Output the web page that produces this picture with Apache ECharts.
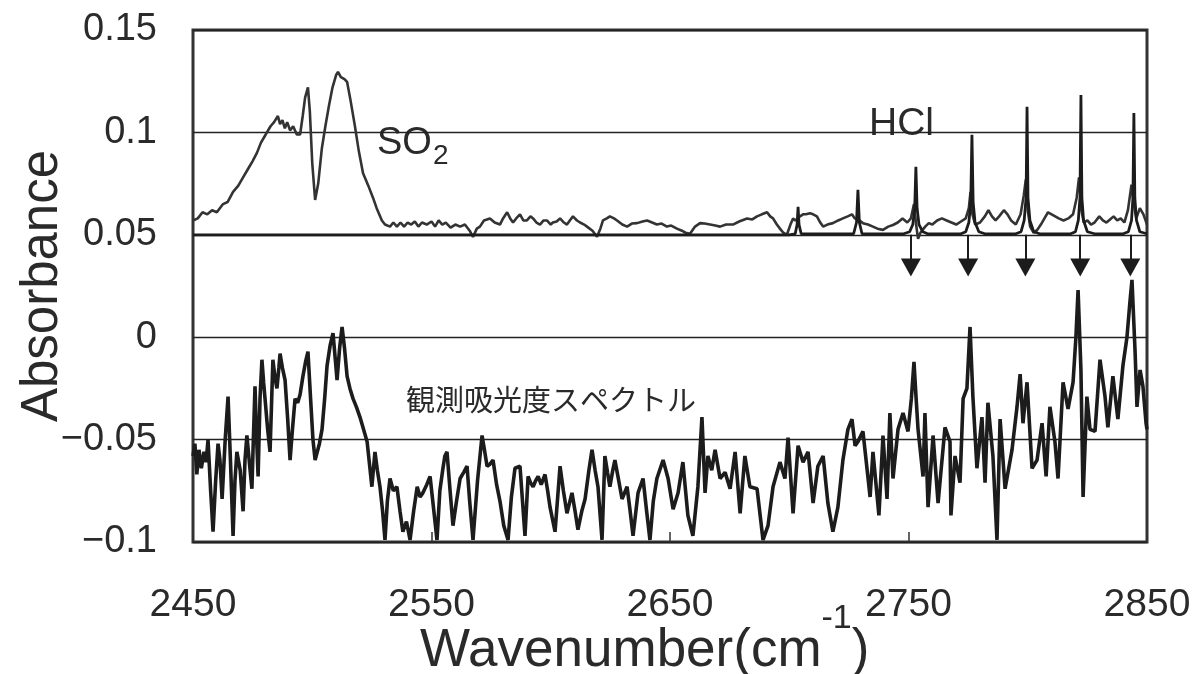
<!DOCTYPE html>
<html>
<head>
<meta charset="utf-8">
<script src="https://cdn.jsdelivr.net/npm/echarts@6/dist/echarts.min.js"></script>
<style>html,body{margin:0;padding:0;background:#fff;}#c{width:1195px;height:674px;}</style>
</head>
<body>
<div id="c"></div>
<script>
// ---- data ----
const xTickLabels = ['2450','2550','2650','2750','2850'];
const yTickLabels = ['\u22120.1','\u22120.05','0','0.05','0.1','0.15'];
const hclArrowX = [2751, 2775, 2799, 2822, 2843];

// observed absorbance spectrum (lower trace)
const observed = [
[2450,-0.058],[2450.8,-0.052],[2451.6,-0.067],[2452.5,-0.055],[2453.5,-0.064],[2454.6,-0.056],[2455.5,-0.061],[2456.3,-0.05],[2457.4,-0.075],[2458.4,-0.095],[2459.5,-0.07],[2460.5,-0.052],[2461.3,-0.06],[2462.2,-0.079],[2463.5,-0.05],[2464.7,-0.029],[2465.7,-0.06],[2466.8,-0.097],[2467.6,-0.07],[2468.4,-0.056],[2469.8,-0.065],[2471,-0.085],[2471.8,-0.06],[2472.6,-0.048],[2473.7,-0.062],[2474.7,-0.074],[2475.3,-0.05],[2476,-0.024],[2476.7,-0.05],[2477.3,-0.068],[2478.1,-0.03],[2478.9,-0.011],[2479.6,-0.022],[2480.2,-0.03],[2481.3,-0.045],[2482.3,-0.056],[2483,-0.03],[2483.5,-0.011],[2484.4,-0.02],[2485.2,-0.025],[2486,-0.015],[2486.5,-0.008],[2487.5,-0.015],[2488.6,-0.021],[2489.7,-0.04],[2490.7,-0.06],[2491.7,-0.045],[2492.8,-0.03],[2493.9,-0.032],[2494.9,-0.028],[2496.1,-0.019],[2497.2,-0.012],[2498.2,-0.007],[2499.3,-0.03],[2500.3,-0.05],[2501.2,-0.06],[2502,-0.06],[2503,-0.052],[2504.1,-0.045],[2505.2,-0.03],[2506.2,-0.014],[2507.5,-0.004],[2508.7,0.002],[2509.6,-0.01],[2510.4,-0.021],[2511.5,-0.005],[2512.5,0.005],[2513.5,-0.005],[2514.6,-0.019],[2515.8,-0.025],[2517.1,-0.03],[2518.5,-0.034],[2520,-0.039],[2521.5,-0.045],[2523,-0.051],[2524,-0.062],[2525,-0.073],[2526.3,-0.056],[2527.3,-0.065],[2528.4,-0.073],[2529.5,-0.085],[2530.5,-0.099],[2531.5,-0.08],[2532.6,-0.069],[2534,-0.075],[2535.5,-0.073],[2536.8,-0.085],[2538,-0.095],[2539.5,-0.09],[2541,-0.099],[2542.5,-0.085],[2544,-0.073],[2545.2,-0.078],[2546.4,-0.076],[2548,-0.072],[2549.4,-0.068],[2551,-0.085],[2552.3,-0.099],[2553.5,-0.075],[2554.8,-0.064],[2555.6,-0.058],[2556.5,-0.056],[2557.8,-0.075],[2559,-0.092],[2560.5,-0.08],[2562,-0.069],[2563.5,-0.066],[2564.9,-0.063],[2566,-0.08],[2567.4,-0.099],[2569.3,-0.07],[2571.2,-0.048],[2572.2,-0.055],[2573.3,-0.063],[2574.5,-0.062],[2575.8,-0.06],
[2577.3,-0.072],[2578.7,-0.08],[2580.3,-0.092],[2582.1,-0.099],[2583.5,-0.078],[2585,-0.064],[2587.1,-0.063],[2589.2,-0.097],[2590.5,-0.068],[2591.5,-0.071],[2592.6,-0.073],[2593.7,-0.07],[2594.7,-0.068],[2596,-0.072],[2597.6,-0.067],[2598.7,-0.075],[2599.7,-0.083],[2601.8,-0.095],[2603.9,-0.063],[2605.3,-0.075],[2606.8,-0.086],[2608.9,-0.076],[2610.2,-0.085],[2611.4,-0.094],[2613,-0.085],[2614.4,-0.079],[2616,-0.065],[2617.3,-0.055],[2618.6,-0.065],[2619.8,-0.073],[2621.5,-0.099],[2622.7,-0.058],[2623.8,-0.066],[2624.8,-0.073],[2626,-0.065],[2626.9,-0.06],[2628.5,-0.07],[2629.9,-0.079],[2632,-0.073],[2633.3,-0.085],[2634.5,-0.097],[2636.6,-0.076],[2638.7,-0.069],[2640.2,-0.085],[2641.6,-0.099],[2643,-0.08],[2644.5,-0.069],[2647.1,-0.06],[2649.2,-0.069],[2651.3,-0.084],[2653.4,-0.076],[2655.4,-0.061],[2657.5,-0.087],[2659.6,-0.097],[2661.7,-0.073],[2663.4,-0.039],[2664.7,-0.076],[2665.9,-0.058],[2667.5,-0.065],[2668.9,-0.055],[2671,-0.069],[2673.1,-0.066],[2675.2,-0.074],[2677.3,-0.056],[2679.4,-0.086],[2681.4,-0.058],[2683.5,-0.073],[2686.5,-0.074],[2689,-0.099],[2691.1,-0.092],[2693.2,-0.073],[2696.1,-0.061],[2698.2,-0.069],[2699.5,-0.049],[2701.6,-0.086],[2703.7,-0.053],[2705.8,-0.061],[2707.9,-0.056],[2710,-0.081],[2712,-0.063],[2714.2,-0.058],[2716.2,-0.081],[2718.3,-0.095],[2720.4,-0.083],[2722.5,-0.06],[2724.6,-0.045],[2726.3,-0.04],[2727.6,-0.053],[2728.8,-0.051],
[2730.9,-0.046],[2733.9,-0.078],[2735.1,-0.056],[2737.6,-0.087],[2739.3,-0.048],[2741,-0.079],[2742.2,-0.037],[2743.5,-0.069],[2745.6,-0.045],[2747.7,-0.037],[2749.8,-0.046],[2751.2,-0.03],[2752.3,-0.012],[2753.2,-0.03],[2754,-0.045],[2756.1,-0.068],[2756.9,-0.037],[2758.2,-0.083],[2760.3,-0.048],[2762.4,-0.081],[2765.3,-0.044],[2767.4,-0.051],[2767.8,-0.087],[2769.5,-0.058],[2771.6,-0.071],[2772.9,-0.03],[2774.5,-0.025],[2775.8,0.005],[2777,-0.029],[2778.7,-0.064],[2780.8,-0.039],[2782.1,-0.071],[2783.3,-0.032],[2785.4,-0.058],[2787.1,-0.099],[2788.4,-0.04],[2790.5,-0.074],[2793.4,-0.055],[2795.5,-0.034],[2796.8,-0.018],[2798,-0.042],[2799.7,-0.022],[2801.8,-0.064],[2803.9,-0.06],[2806,-0.042],[2807.7,-0.068],[2809.3,-0.034],[2811.4,-0.051],[2812.7,-0.069],[2814.8,-0.022],[2816.9,-0.035],[2819,-0.022],[2820.2,0],[2821.1,0.023],[2822.3,-0.016],[2823.2,-0.078],[2824.8,-0.029],[2826.1,-0.045],[2828.2,-0.046],[2830.3,-0.011],[2832.4,-0.029],[2833.6,-0.044],[2835.7,-0.019],[2837.8,-0.04],[2839.9,-0.014],[2841.6,0],[2842.9,0.018],[2843.7,0.028],[2845,-0.007],[2845.8,-0.034],[2847.1,-0.016],[2848.3,-0.024],[2849.6,-0.042],[2850,-0.045]
];

// derived spectrum (upper noisy trace with SO2 band)
const derived = [
[2450,0.057],[2452,0.058],[2454,0.061],[2456,0.06],[2458,0.062],[2460,0.061],[2462.6,0.065],[2464.5,0.066],[2466.8,0.071],[2469,0.074],[2471,0.078],[2473,0.082],[2475,0.086],[2476.8,0.09],[2478.5,0.095],[2480,0.098],[2481,0.1],[2482.5,0.103],[2484,0.105],[2485.6,0.108],[2486.5,0.104],[2487.5,0.106],[2488.5,0.102],[2489.5,0.105],[2490.7,0.101],[2492,0.103],[2493.5,0.099],[2494.9,0.099],[2496,0.108],[2497,0.117],[2498.2,0.122],[2499,0.11],[2500,0.085],[2501.2,0.067],[2502.5,0.075],[2504,0.092],[2505.5,0.103],[2507,0.113],[2508.5,0.122],[2510,0.128],[2510.8,0.1295],[2512,0.127],[2513.5,0.126],[2514.6,0.1247],[2516,0.116],[2517.9,0.103],[2519.5,0.091],[2521.3,0.08],[2523.5,0.074],[2525.5,0.068],[2527,0.063],[2529.2,0.057],[2530.5,0.055],[2532.6,0.054],[2534,0.056],[2535.5,0.054],[2537,0.056],[2538.5,0.054],[2540,0.056],[2541.5,0.055],[2543,0.0565],[2544.5,0.054],[2546,0.056],[2548,0.055],[2550,0.0565],[2551.5,0.054],[2553,0.057],[2554.5,0.055],[2556,0.056],[2558,0.0535],[2560,0.055],[2562,0.054],[2564,0.055],[2566,0.052],[2567.4,0.049],[2569,0.053],[2570.3,0.054],[2572,0.057],[2574.5,0.058],[2576.5,0.056],[2578.7,0.055],[2580,0.058],[2581.7,0.061],[2583,0.058],[2584.2,0.056],[2585.5,0.058],[2587.1,0.06],[2588.5,0.057],[2590,0.057],[2591.5,0.059],[2592.6,0.058],[2594,0.056],[2595.5,0.055],[2597,0.057],[2598.4,0.057],[2600,0.055],[2600.9,0.056],[2602.5,0.0565],[2603.9,0.058],[2605.5,0.056],[2606.8,0.055],[2608,0.057],[2609.3,0.059],[2611,0.057],[2612.3,0.056],[2614,0.055],[2615.2,0.054],[2617.5,0.052],[2619.4,0.049],[2620.8,0.053],[2621.9,0.057],[2623.5,0.058],[2624.8,0.059],[2626.5,0.058],[2627.8,0.057],[2630,0.055],[2632,0.054],[2634,0.0555],[2636.2,0.0557],[2638.5,0.0565],[2640.4,0.057],[2642.5,0.056],[2644.5,0.055],[2646.5,0.0555],[2648.7,0.054],[2650.5,0.0545],[2652.9,0.053],[2655,0.052],[2656.5,0.051],[2658.4,0.0505],[2660.5,0.054],[2662.6,0.0557],[2664.5,0.0555],[2666.8,0.055],[2669,0.0545],[2671,0.054],[2673.5,0.055],[2676.4,0.055],[2679,0.0565],[2682.3,0.058],[2684.5,0.0575],[2686.5,0.059],[2688.5,0.06],[2690.7,0.061],[2692,0.059],[2693.2,0.058],[2694.8,0.055],[2696.1,0.053],[2697.5,0.051],[2699,0.05],[2700.5,0.055],[2701.6,0.058],[2702.5,0.057],[2704.5,0.059],[2705.8,0.06],[2707,0.06],[2708.7,0.0605],[2710,0.06],[2711.6,0.059],[2713,0.056],[2714.2,0.054],[2716,0.055],[2718.3,0.0557],[2720.5,0.057],[2722.5,0.058],[2724.5,0.059],[2726.3,0.06],[2727.5,0.058],[2729.5,0.057],[2730.9,0.0557],[2733,0.055],[2735.1,0.054],[2737,0.053],[2739.3,0.0524],[2741.5,0.054],[2743.5,0.0548],[2745.5,0.056],[2747.5,0.058],[2749.5,0.056],[2751,0.058],[2752.3,0.065],[2753.2,0.055],[2754,0.048],[2755,0.051],[2757,0.054],[2758.5,0.0557],[2760,0.055],[2762,0.057],[2764,0.058],[2766,0.057],[2768,0.056],[2770,0.055],[2772,0.0565],[2774,0.058],[2775.3,0.063],[2776,0.071],[2776.8,0.06],[2778,0.055],[2780,0.056],[2782,0.059],[2783.5,0.062],[2785,0.059],[2786.5,0.057],[2788,0.059],[2790,0.062],[2791.5,0.06],[2793,0.057],[2795,0.055],[2797,0.06],[2798.3,0.069],[2799.2,0.077],[2800,0.062],[2801,0.054],[2802.5,0.051],[2804,0.0524],[2805.5,0.055],[2807,0.058],[2808.5,0.061],[2810,0.06],[2811.5,0.059],[2813,0.058],[2815,0.057],[2817,0.058],[2819,0.06],[2820.5,0.068],[2821.5,0.078],[2822.5,0.062],[2823.5,0.056],[2825,0.057],[2826.5,0.055],[2828,0.056],[2830,0.059],[2831.5,0.057],[2833,0.056],[2834.5,0.0575],[2836,0.059],[2837.5,0.057],[2839,0.058],[2840.5,0.056],[2842,0.062],[2843.5,0.0745],[2844.5,0.065],[2845.5,0.058],[2847,0.063],[2848.5,0.06],[2850,0.055]
];

// calculated HCl spectrum (offset baseline 0.05)
const hclCalc = [
[2450,0.05],[2700,0.05],[2702.5,0.0505],[2703.3,0.055],[2703.7,0.0637],[2704.1,0.055],[2705,0.0505],[2727,0.0505],[2728.2,0.056],[2728.8,0.072],[2729.4,0.056],[2730.5,0.0505],[2748,0.0505],[2750.5,0.0515],[2751.8,0.055],[2752.6,0.063],[2753.1,0.0832],[2753.6,0.063],[2754.4,0.055],[2756,0.0515],[2758,0.0505],[2772,0.0505],[2774,0.0515],[2775.3,0.056],[2776.1,0.066],[2776.6,0.0988],[2777.1,0.066],[2777.9,0.056],[2779.5,0.0515],[2782,0.0505],[2795,0.0505],[2797.2,0.0515],[2798.5,0.057],[2799.3,0.068],[2799.7,0.1125],[2800.1,0.068],[2800.9,0.057],[2802.5,0.0515],[2805,0.0505],[2818,0.0505],[2820,0.0515],[2821.2,0.057],[2821.9,0.068],[2822.3,0.1183],[2822.7,0.068],[2823.4,0.057],[2825,0.0515],[2828,0.0505],[2840,0.0505],[2842.2,0.0515],[2843.5,0.057],[2844.1,0.068],[2844.5,0.1095],[2844.9,0.068],[2845.6,0.057],[2847,0.0515],[2850,0.0505]
];

// ---- chart ----
const LAT = "'Liberation Sans', Arial, sans-serif";
const chart = echarts.init(document.getElementById('c'), null, {renderer: 'canvas'});
const xMin = 2450, xMax = 2850, xStep = 100;
const yMin = -0.1, yMax = 0.15, yStep = 0.05;

chart.setOption({
  backgroundColor: '#fff',
  animation: false,
  grid: {left: 193, right: 48, top: 30, bottom: 132, show: true, borderColor: '#333', borderWidth: 3,
         backgroundColor: 'transparent', containLabel: false, outerBoundsMode: 'none'},
  xAxis: {
    type: 'value', min: xMin, max: xMax, interval: xStep,
    axisLine: {show: false, onZero: false},
    axisTick: {show: true, inside: true, length: 10, lineStyle: {color: '#333', width: 1.5}},
    splitLine: {show: false},
    axisLabel: {
      fontSize: 39, fontFamily: LAT, color: '#2a2a2a', margin: 44,
      formatter: function (v) { return xTickLabels[Math.round((v - xMin) / xStep)]; }
    },
    name: '{a|Wavenumber(cm}{s|-1}{a|)}{h| }',
    nameLocation: 'middle', nameGap: 60, nameMoveOverlap: false,
    nameTextStyle: {
      padding: [0, 50, 0, 0],
      rich: {
        a: {fontSize: 53, lineHeight: 53, verticalAlign: 'bottom', fontFamily: LAT, color: '#2a2a2a'},
        s: {fontSize: 34, lineHeight: 33, verticalAlign: 'top', fontFamily: LAT, color: '#2a2a2a'},
        h: {fontSize: 2, lineHeight: 76}
      }
    }
  },
  yAxis: {
    type: 'value', min: yMin, max: yMax, interval: yStep,
    axisLine: {show: false, onZero: false}, axisTick: {show: false},
    splitLine: {show: true, lineStyle: {color: '#222', width: 1.3}},
    axisLabel: {
      fontSize: 38, fontFamily: LAT, color: '#2a2a2a', margin: 36,
      formatter: function (v) { return yTickLabels[Math.round((v - yMin) / yStep)]; }
    },
    name: 'Absorbance', nameLocation: 'middle', nameGap: 125, nameMoveOverlap: false,
    nameTextStyle: {fontSize: 51, fontFamily: LAT, color: '#2a2a2a'}
  },
  series: [
    {
      name: 'observed', type: 'line', data: observed, showSymbol: false, silent: true,
      lineStyle: {color: '#1c1c1c', width: 3.6}, z: 3
    },
    {
      name: 'derived', type: 'line', data: derived, showSymbol: false, silent: true,
      lineStyle: {color: '#333', width: 2.6}, z: 3
    },
    {
      name: 'hcl', type: 'line', data: hclCalc, showSymbol: false, silent: true,
      lineStyle: {color: '#1c1c1c', width: 2.8}, z: 4,
      markLine: {
        silent: true, symbol: ['none', 'triangle'], symbolSize: [20, 18],
        label: {show: false},
        lineStyle: {color: '#1c1c1c', width: 2, type: 'solid'},
        data: hclArrowX.map(function (x) { return [{coord: [x, 0.05]}, {coord: [x, 0.034]}]; })
      }
    }
  ],
  graphic: [
    {type: 'text', left: 377, top: 125, style: {text: 'SO', fontSize: 38, fontFamily: LAT, fill: '#2a2a2a'}},
    {type: 'text', left: 433, top: 142, style: {text: '2', fontSize: 28, fontFamily: LAT, fill: '#2a2a2a'}},
    {type: 'text', left: 869, top: 105, style: {text: 'HCl', fontSize: 39, fontFamily: LAT, fill: '#2a2a2a'}},
    {type: 'text', left: 406, top: 385, style: {text: '観測吸光度スペクトル', fontSize: 29, fontFamily: "'Noto Sans CJK JP', sans-serif", fill: '#2a2a2a'}}
  ]
});
</script>
</body>
</html>
